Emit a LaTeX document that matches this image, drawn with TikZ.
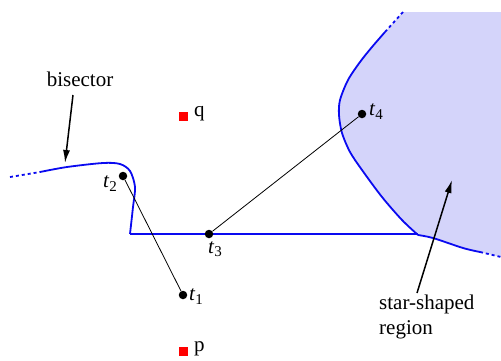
\documentclass[tikz,border=0pt]{standalone}
\usepackage{fontspec}
\setmainfont{Liberation Serif}
\usetikzlibrary{arrows.meta}
\definecolor{regfill}{RGB}{212,212,250}
\definecolor{bis}{RGB}{10,10,240}
\newcommand\tlab[1]{\textit{t}\raisebox{-.4ex}{\fontsize{15bp}{15bp}\selectfont #1}}
\begin{document}
\begin{tikzpicture}[x=1bp,y=-1bp,
  every node/.style={font=\fontsize{21bp}{25bp}\selectfont},
  dot/.style={circle,fill=black,inner sep=0pt,minimum size=8.5bp},
  site/.style={rectangle,fill=red,inner sep=0pt,minimum size=9bp},
  bisline/.style={draw=bis,line width=1.8bp},
  seg/.style={draw=black,line width=0.8bp},
  pointer/.style={draw=black,line width=1.5bp,-{Latex[length=13bp,width=7bp]}}]
\useasboundingbox (0,0) rectangle (501,360);
% star-shaped region fill
\fill[regfill] (403,12) -- (501,12) -- (501,257) -- (480,252)
  -- plot[smooth] coordinates {(480,252) (463,248) (433,238) (418,235)}
  -- plot[smooth] coordinates {(418,235) (402,220) (382,197) (362,170) (350,152) (342,133) (339,115) (340,100) (348,80) (360,62) (372,47) (385,32)}
  -- cycle;
% region boundary
\draw[bisline,dashed] (403,12) -- (385,32);
\draw[bisline] plot[smooth] coordinates {(385,32) (372,47) (360,62) (348,80) (340,100) (339,115) (342,133) (350,152) (362,170) (382,197) (402,220) (418,235)};
\draw[bisline] plot[smooth] coordinates {(418,235) (433,238) (463,248) (480,252)};
\draw[bisline,dashed] (480,252) -- (501,257);
% bisector
\draw[bisline,dashed] (10,177) -- (40,172);
\draw[bisline] plot[smooth] coordinates {(40,172) (67,167) (103,163) (120,164) (130,171) (135,187) (133,207) (130,234)};
\draw[bisline] (130,234) -- (418,234);
% sites
\node[site] (q) at (183,116) {};
\node[anchor=west,inner sep=0pt] (ql) at (194,114) {q};
\node[site] (p) at (183,351) {};
\node[anchor=west,inner sep=0pt] (pl) at (194,349) {p};
% points
\node[dot] (t1) at (183,295) {};
\node[dot] (t2) at (123,176) {};
\node[dot] (t3) at (209,234) {};
\node[dot] (t4) at (362,114) {};
\node[anchor=west,inner sep=0pt] at (189,297) {\tlab{1}};
\node[anchor=east,inner sep=0pt] at (117,184) {\tlab{2}};
\node[anchor=north,inner sep=0pt] at (215,241) {\tlab{3}};
\node[anchor=west,inner sep=0pt] at (369,112) {\tlab{4}};
\draw[seg] (t2) -- (t1);
\draw[seg] (t3) -- (t4);
% labels with pointers
\node[inner sep=0pt] (bl) at (80,79) {bisector};
\coordinate (bp) at (65,163);
\draw[pointer] (73,95) -- (bp);
\node[anchor=north west,align=left,inner sep=0pt] (sl) at (379,295) {star-shaped\\region};
\coordinate (sp) at (452,180);
\draw[pointer] (417,293) -- (sp);
\end{tikzpicture}
\end{document}
